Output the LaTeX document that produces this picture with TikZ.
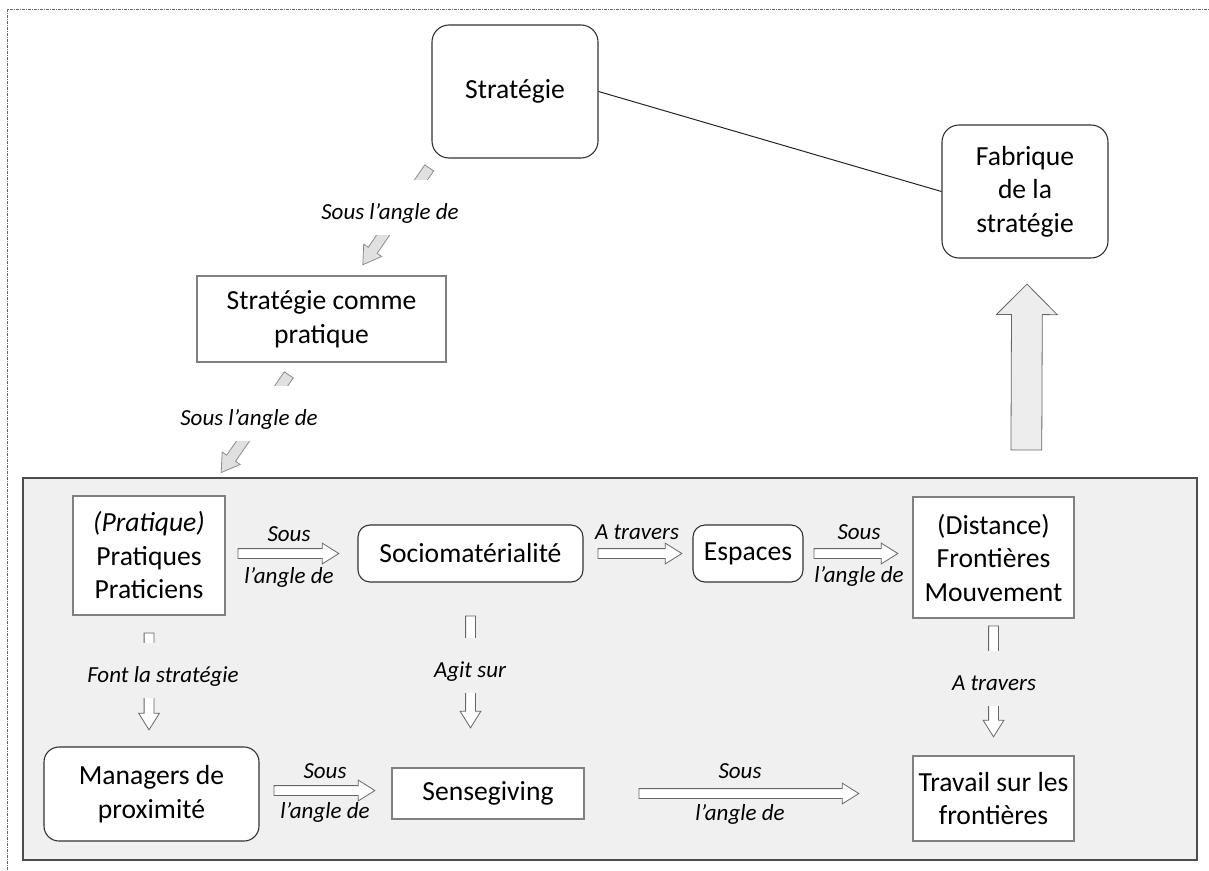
\documentclass[tikz,border=0pt]{standalone}
\usepackage{fontspec}
\setmainfont{Carlito}
\usetikzlibrary{shapes.arrows,calc,positioning}

\definecolor{panelgray}{HTML}{F0F0F0}
\tikzset{
  frame/.style={draw=black!60, line width=0.8pt, dash pattern=on 3pt off 1pt on 1pt off 1pt},
  panel/.style={draw=black!70, fill=panelgray, line width=1.3pt, inner sep=0pt,
    minimum width=1174, minimum height=382},
  txt/.style={font=\fontsize{27.6}{33.5}\selectfont, align=center, inner sep=0pt},
  rbox/.style={txt, draw=black!80, fill=white, line width=1.1pt, rounded corners=#1},
  rbox/.default=12pt,
  sbox/.style={txt, draw=black!50, fill=white, line width=1.1pt},
  lab/.style={font=\fontsize{23}{27}\selectfont\itshape, text height=24pt, text depth=0pt, inner sep=0pt},
  flab/.style={lab, inner xsep=2pt, inner ysep=15.5pt, fill=#1},
  barrow/.style={single arrow, draw=black!60, fill=white, line width=0.8pt,
    inner xsep=0pt, inner ysep=4.5pt, single arrow head extend=5.5pt,
    single arrow tip angle=64},
  darrow/.style={barrow, draw=black!45, fill=black!12, inner ysep=5pt},
  bigarrow/.style={barrow, draw=black!60, fill=black!7, inner ysep=15pt,
    single arrow head extend=15pt, single arrow tip angle=90},
}

% block arrow from #2 to #3
\newcommand{\barrow}[3][]{%
  \path let \p1=#2, \p2=#3, \n1={atan2(\y2-\y1,\x2-\x1)},
    \n2={veclen(\x2-\x1,\y2-\y1)} in
    node [barrow, #1, minimum height=\n2, rotate=\n1, anchor=tail] at (\p1) {};}

\begin{document}
\begin{tikzpicture}[x=1pt, y=-1pt]
  \useasboundingbox (0,0) rectangle (1209,870);
  \draw [frame] (7,870) -- (7,9) -- (1209,9);

  \node [panel] (pan) at (610,669) {};

  \node [rbox=17pt, minimum width=166, minimum height=133] (strat) at (515,91.5) {Stratégie};
  \node [rbox=17pt, minimum width=166, minimum height=133] (fab) at (1025,191.5) {Fabrique\\de la\\stratégie};
  \node [sbox, minimum width=249, minimum height=86] (scp) at (321.5,319) {Stratégie comme\\pratique};
  \draw [line width=1pt, black!85] (strat.east) -- (fab.west);

  \node [sbox, minimum width=152, minimum height=119] (prat) at (149,555.5) {\textit{(Pratique)}\\Pratiques\\Praticiens};
  \node [rbox, minimum width=225, minimum height=57] (socio) at (470.5,553.5) {Sociomatérialité};
  \node [rbox, minimum width=110, minimum height=57] (esp) at (748,553.5) {Espaces};
  \node [sbox, minimum width=161, minimum height=121] (dist) at (993.5,557.5) {(Distance)\\Frontières\\Mouvement};
  \node [rbox=15pt, minimum width=215, minimum height=94] (mgr) at (151.5,794) {Managers de\\proximité};
  \node [sbox, minimum width=192, minimum height=51] (sense) at (488,793.5) {Sensegiving};
  \node [sbox, minimum width=161, minimum height=85] (trav) at (993.5,798.5) {Travail sur les\\frontières};

  % arrows
  \barrow[name=a1]{($(prat.east |- socio.west)+(12,0)$)}{($(socio.west)+(-19,0)$)}
  \barrow[name=a2]{($(socio.east)+(14,0)$)}{($(esp.west)+(-11,0)$)}
  \barrow[name=a3]{($(esp.east)+(10,0)$)}{($(dist.west |- esp.east)+(-15,0)$)}
  \barrow[name=a4]{($(mgr.east |- sense.west)+(14,-3)$)}{($(sense.west)+(-17,-3)$)}
  \barrow[name=a5]{($(sense.east)+(54,0)$)}{($(trav.west |- sense.east)+(-54,0)$)}
  \barrow[name=v1]{($(prat.south)+(0,17)$)}{($(prat.south |- mgr.north)+(0,-17)$)}
  \barrow[name=v2]{($(socio.south)+(0,33)$)}{($(socio.south |- sense.north)+(0,-40)$)}
  \barrow[name=v3]{($(dist.south)+(0,7)$)}{($(trav.north)+(0,-19)$)}
  \barrow[darrow, name=d1]{($(strat.south west)+(-2,9)$)}{($(scp.north)+(41.5,-11)$)}
  \barrow[darrow, name=d2]{($(scp.south)+(-32.5,12)$)}{($(pan.north west)+(199,-5)$)}
  \barrow[bigarrow, name=up]{($(pan.north west)+(1004,-27)$)}{($(fab.south)+(2,26)$)}

  % labels
  \node [flab=white] (l1) at (390,207) {Sous l’angle de};
  \node [flab=white] (l2) at (249,413.5) {Sous l’angle de};
  \node [flab=panelgray] (l3) at (163,670.5) {Font la stratégie};
  \node [flab=panelgray] (l4) at (470,665) {Agit sur};
  \node [flab=panelgray] (l5) at (994,678.5) {A travers};
  \node [lab] (l6) at (637,527) {A travers};
  \foreach \x/\ya/\yb [count=\i] in {289/529/571, 859/527/570, 325/766/806, 740/766/808}
  {
    \node [lab] (sous\i) at (\x,\ya) {Sous};
    \node [lab] (angle\i) at (\x,\yb) {l’angle de};
  }
\end{tikzpicture}
\end{document}
